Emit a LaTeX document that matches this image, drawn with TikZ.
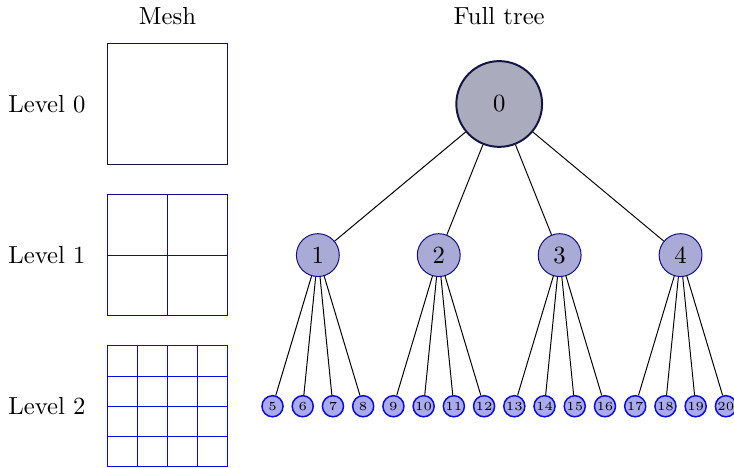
\documentclass[tikz,border=0pt]{standalone}
\usepackage{tikz}

\definecolor{lvlzero}{RGB}{20,20,70}
\definecolor{lvlone}{RGB}{15,15,130}
\definecolor{lvltwo}{RGB}{10,10,220}
\definecolor{fillzero}{RGB}{171,171,190}
\definecolor{fillone}{RGB}{170,170,214}
\definecolor{filltwo}{RGB}{170,170,238}

\tikzset{
	rootnode/.style={circle,draw=lvlzero,fill=fillzero,thick,inner sep=0pt,minimum size=1.22cm},
	midnode/.style={circle,draw=lvlone,fill=fillone,inner sep=0pt,minimum size=0.61cm},
	leafnode/.style={circle,draw=lvltwo,fill=filltwo,semithick,inner sep=0pt,minimum size=0.3cm,font=\tiny}
}

\begin{document}
\begin{tikzpicture}[x=1.72cm,y=1.72cm]
	\useasboundingbox (-0.885,0.86) rectangle (5.186,-3.01);
	
	\node (meshtitle) at (0.5,0.73) {Mesh};
	\node (treetitle) at (3.244,0.73) {Full tree};
	
	\node (lvl0) at (-0.496,0) {Level 0};
	\node (lvl1) at (-0.496,-1.25) {Level 1};
	\node (lvl2) at (-0.496,-2.5) {Level 2};
	
	% meshes
	\draw[lvlzero] (0,-0.5) rectangle (1,0.5);
	\foreach \x in {0,0.5,1}
	{
		\draw[lvlone] (\x,-1.75) -- (\x,-0.75);
		\draw[lvlone] (0,\x-1.75) -- (1,\x-1.75);
	}
	\foreach \x in {0,0.25,...,1}
	{
		\draw[lvltwo] (\x,-3) -- (\x,-2);
		\draw[lvltwo] (0,\x-3) -- (1,\x-3);
	}
	
	% tree
	\node[rootnode] (n0) at (3.244,0) {0};
	\foreach \i in {1,...,4}
	{
		\node[midnode] (n\i) at (0.744+\i,-1.25) {\i};
		\draw (n0) -- (n\i);
		\foreach \j in {0,...,3}
		{
			\pgfmathtruncatemacro{\k}{4*\i+\j+1}
			\node[leafnode] (n\k) at (0.369+\i+0.25*\j,-2.5) {\k};
			\draw (n\i) -- (n\k);
		}
	}
\end{tikzpicture}
\end{document}
